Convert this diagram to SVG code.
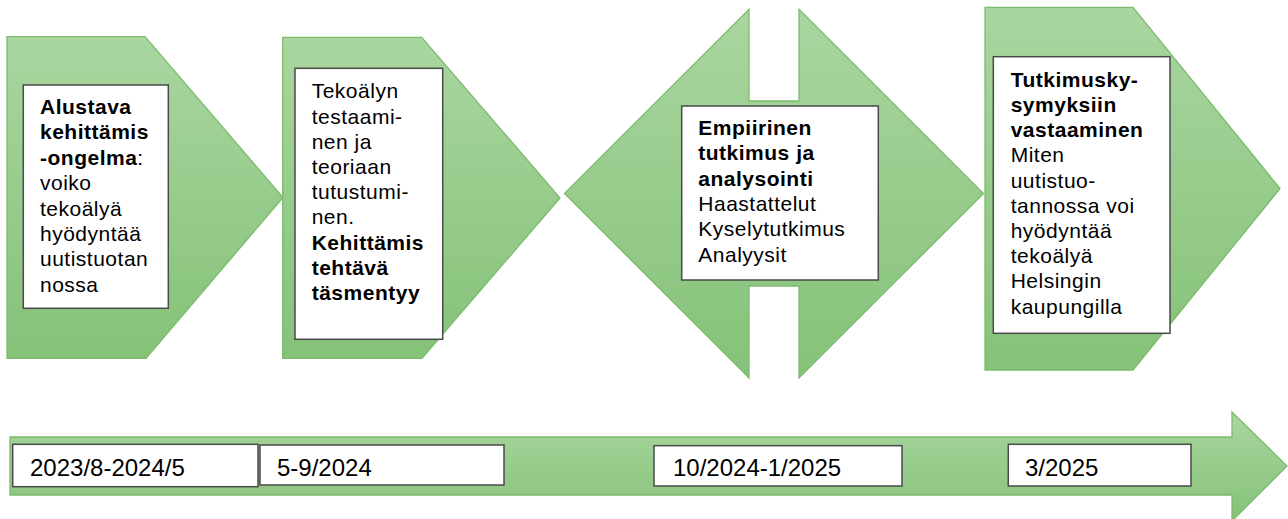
<svg xmlns="http://www.w3.org/2000/svg" width="1288" height="519" viewBox="0 0 1288 519">
<defs>
<linearGradient id="g" x1="0" y1="0" x2="0" y2="1">
<stop offset="0" stop-color="#a9d6a0"/>
<stop offset="1" stop-color="#85c278"/>
</linearGradient>
<style>
.sh{fill:url(#g);stroke:#7cbb6e;stroke-width:1.3;stroke-linejoin:miter}
.bx{fill:#fff;stroke:#4a4a4a;stroke-width:1.5}
.t{font-family:"Liberation Sans",Arial,sans-serif;font-size:21px;letter-spacing:0.5px;fill:#000}
.b{font-weight:bold}
.d{font-family:"Liberation Sans",Arial,sans-serif;font-size:24px;fill:#000}
</style>
</defs>
<rect width="1288" height="519" fill="#fff"/>

<g id="timeline">
<path class="sh" d="M10,437 H1232 V412 L1287,466 L1232,521 V495 H10 Z"/>
</g>

<g id="step1">
<path class="sh" d="M7,36.7 H145 L283,197.5 L146,358.3 H7 Z"/>
<rect class="bx" x="23.3" y="85" width="145" height="223.3"/>
<text class="t" x="40">
<tspan x="40" y="114" class="b">Alustava</tspan>
<tspan x="40" y="139.4" class="b">kehittämis</tspan>
<tspan x="40" y="164.8"><tspan class="b">-ongelma</tspan>:</tspan>
<tspan x="40" y="190.2">voiko</tspan>
<tspan x="40" y="215.6">tekoälyä</tspan>
<tspan x="40" y="241">hyödyntää</tspan>
<tspan x="40" y="266.4">uutistuotan</tspan>
<tspan x="40" y="291.8">nossa</tspan>
</text>
</g>

<g id="step2">
<path class="sh" d="M282.7,37.3 H421.7 L560,198 L422,358.3 H282.7 Z"/>
<rect class="bx" x="295" y="68.3" width="147.7" height="271"/>
<text class="t">
<tspan x="311.7" y="98.3">Tekoälyn</tspan>
<tspan x="311.7" y="123.5">testaami-</tspan>
<tspan x="311.7" y="148.7">nen ja</tspan>
<tspan x="311.7" y="173.9">teoriaan</tspan>
<tspan x="311.7" y="199.1">tutustumi-</tspan>
<tspan x="311.7" y="224.3">nen.</tspan>
<tspan x="311.7" y="249.5" class="b">Kehittämis</tspan>
<tspan x="311.7" y="274.7" class="b">tehtävä</tspan>
<tspan x="311.7" y="299.9" class="b">täsmentyy</tspan>
</text>
</g>

<g id="step3">
<path class="sh" d="M564.5,193.5 L749,9.3 V101 H799 V9.3 L983.5,193.5 L799,378 V286 H749 V378 Z"/>
<rect class="bx" x="681.7" y="106" width="196.6" height="174"/>
<text class="t">
<tspan x="698.3" y="135" class="b">Empiirinen</tspan>
<tspan x="698.3" y="160.3" class="b">tutkimus ja</tspan>
<tspan x="698.3" y="185.6" class="b">analysointi</tspan>
<tspan x="698.3" y="210.9">Haastattelut</tspan>
<tspan x="698.3" y="236.2">Kyselytutkimus</tspan>
<tspan x="698.3" y="261.5">Analyysit</tspan>
</text>
</g>

<g id="step4">
<path class="sh" d="M985,7.3 H1133 L1280,188.5 L1133,370 H985 Z"/>
<rect class="bx" x="993.3" y="56.7" width="176.7" height="276.6"/>
<text class="t">
<tspan x="1010.7" y="86.7" class="b">Tutkimusky-</tspan>
<tspan x="1010.7" y="111.9" class="b">symyksiin</tspan>
<tspan x="1010.7" y="137.1" class="b">vastaaminen</tspan>
<tspan x="1010.7" y="162.3">Miten</tspan>
<tspan x="1010.7" y="187.5">uutistuo-</tspan>
<tspan x="1010.7" y="212.7">tannossa voi</tspan>
<tspan x="1010.7" y="237.9">hyödyntää</tspan>
<tspan x="1010.7" y="263.1">tekoälyä</tspan>
<tspan x="1010.7" y="288.3">Helsingin</tspan>
<tspan x="1010.7" y="313.5">kaupungilla</tspan>
</text>
</g>

<g id="date1">
<rect class="bx" x="12.7" y="444.3" width="245.3" height="42.4"/>
<text class="d" x="30" y="476">2023/8-2024/5</text>
</g>
<g id="date2">
<rect class="bx" x="260" y="445" width="244" height="40"/>
<text class="d" x="277" y="476">5-9/2024</text>
</g>
<g id="date3">
<rect class="bx" x="654" y="445.7" width="248" height="40.3"/>
<text class="d" x="673" y="476">10/2024-1/2025</text>
</g>
<g id="date4">
<rect class="bx" x="1008.3" y="444.3" width="182.7" height="41.7"/>
<text class="d" x="1025" y="476">3/2025</text>
</g>
</svg>
